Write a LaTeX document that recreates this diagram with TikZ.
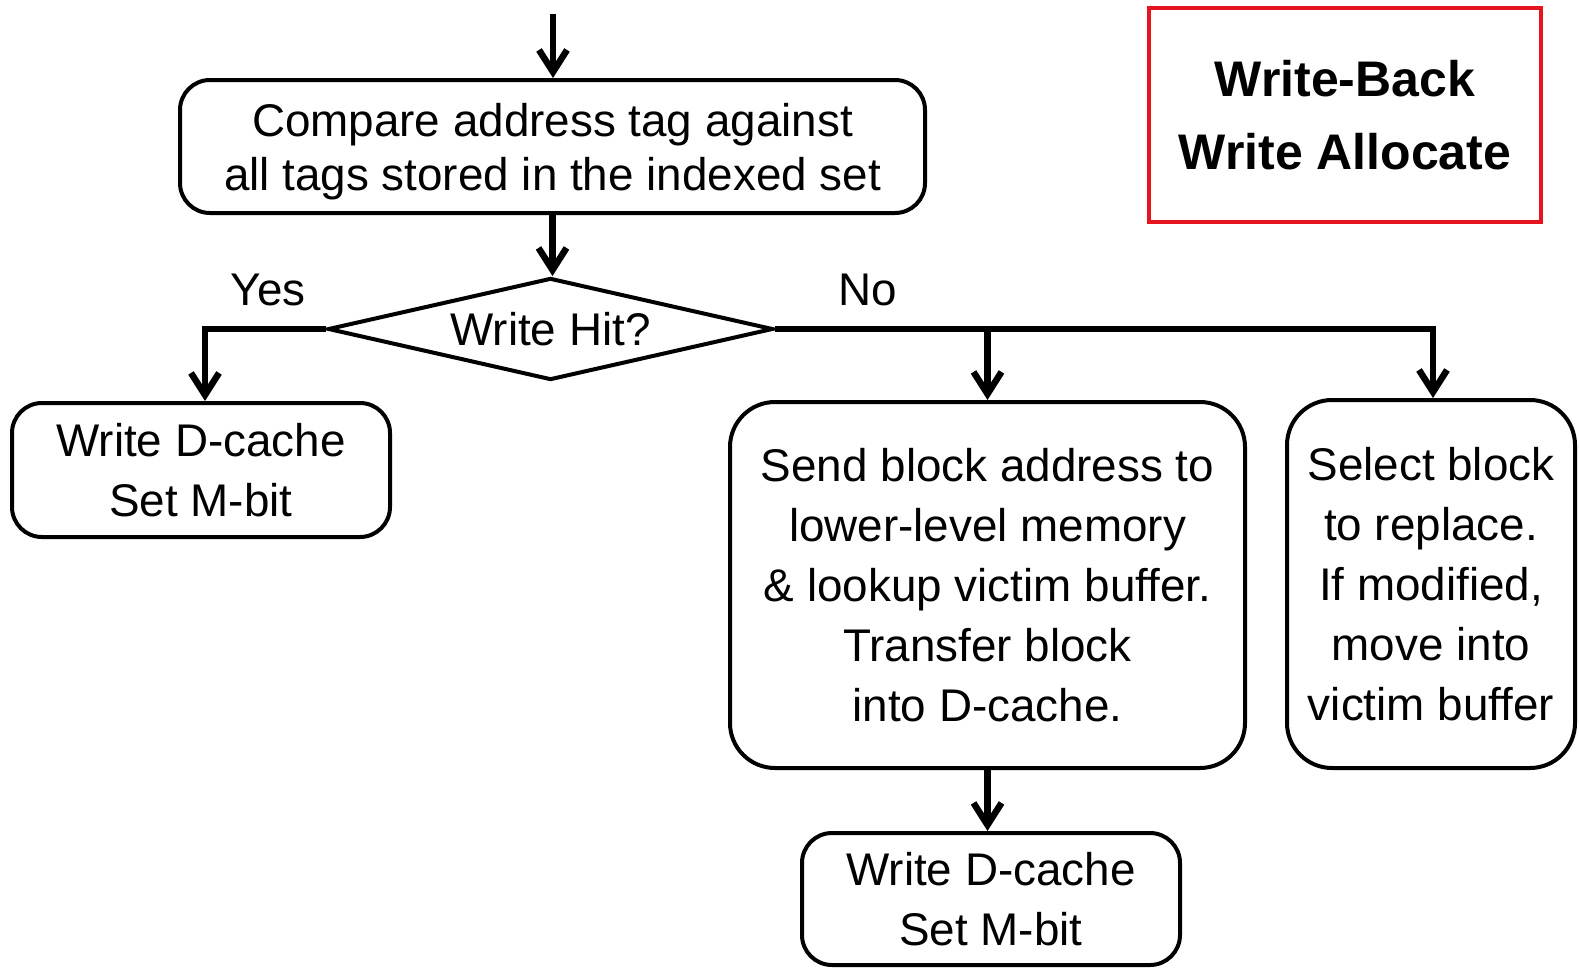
\documentclass[tikz,border=0pt]{standalone}
\usepackage{fontspec}
\setmainfont{Liberation Sans}
\usetikzlibrary{shapes.geometric,arrows.meta}
\begin{document}
\begin{tikzpicture}[x=1pt,y=-1pt,
  box/.style={draw=black,line width=4pt,rounded corners=30pt,align=center,inner sep=0pt,
    font=\fontsize{45.8}{60}\selectfont,text=black},
  conn/.style={line width=6.5pt,-{Straight Barb[length=22pt,width=28pt,line width=6.5pt]}},
  lbl/.style={font=\fontsize{45.8}{55}\selectfont,inner sep=0pt}]
\useasboundingbox[fill=white] (0,0) rectangle (1579,975);
\node[box,minimum width=745pt,minimum height=133pt,text depth=0pt,font=\fontsize{45.8}{54}\selectfont] (compare) at (552.5,146.5)
  {Compare address tag against\\all tags stored in the indexed set};
\node[draw=black,line width=4pt,diamond,shape aspect=4.4,inner sep=0pt,minimum width=445pt,minimum height=102pt,
  font=\fontsize{45.8}{55}\selectfont] (hit) at (550.5,329) {Write Hit?};
\node[box,minimum width=378pt,minimum height=134pt] (whit) at (201,470) {Write D-cache\\Set M-bit};
\node[box,minimum width=515pt,minimum height=366pt,rounded corners=45pt] (send) at (987.5,585)
  {Send block address to\\lower-level memory\\\& lookup victim buffer.\\Transfer block\\into D-cache.};
\node[box,minimum width=288pt,minimum height=368pt,rounded corners=45pt] (select) at (1431,584)
  {Select block\\to replace.\\If modified,\\move into\\victim buffer};
\node[box,minimum width=378pt,minimum height=132pt] (wmiss) at (991,899) {Write D-cache\\Set M-bit};
\node[draw={rgb,255:red,230;green,20;blue,30},line width=3.5pt,minimum width=392pt,minimum height=214pt,
  align=center,font=\fontsize{50}{73}\selectfont\bfseries,inner sep=0pt] (policy) at (1345,115)
  {Write-Back\\Write Allocate};
\node[lbl] (yes) at (268,290) {Yes};
\node[lbl] (no) at (868,290) {No};
\coordinate (start) at (553,14);
\draw[conn] (start) -- (start |- compare.north);
\draw[conn] (compare.south) -- (compare.south |- hit.north);
\draw[conn] (hit.west) -| ([xshift=4pt]whit.north);
\draw[conn] (hit.east) -| (send.north);
\draw[conn] (hit.east) -| ([xshift=2pt]select.north);
\draw[conn] (send.south) -- (send.south |- wmiss.north);
\end{tikzpicture}
\end{document}
